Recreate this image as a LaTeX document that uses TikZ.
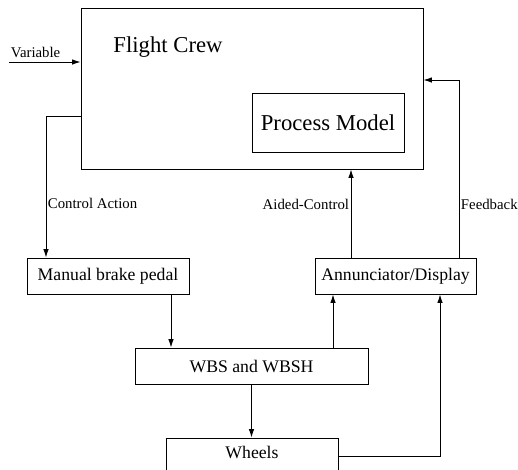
\documentclass[tikz,border=0pt]{standalone}
\usepackage{fontspec}
\setmainfont{Liberation Serif}
\usetikzlibrary{arrows.meta}

\tikzset{
  block/.style={draw, line width=0.9pt, rectangle, inner sep=0pt, minimum height=36pt, font=\fontsize{17.7}{20}\selectfont},
  flow/.style={line width=0.9pt, -{Latex[length=8.5pt,width=5.5pt]}},
  lbl/.style={font=\fontsize{14.8}{17}\selectfont, inner sep=1.5pt}
}

\begin{document}
\begin{tikzpicture}[x=1pt, y=-1pt]
\clip (0,0) rectangle (518,469);
% Crew box with its process model
\node[draw, line width=0.9pt, minimum width=342pt, minimum height=161pt] (crew) at (252,88.5) {};
\node[font=\fontsize{22.7}{26}\selectfont] (crewtxt) at (168,47) {Flight Crew};
\node[draw, line width=0.9pt, minimum width=152pt, minimum height=59pt, font=\fontsize{22.7}{26}\selectfont] (model) at (328,122.5) {Process Model};

% Lower blocks
\node[block, minimum width=162pt] (pedal) at (108,276) {Manual brake pedal};
\node[block, minimum width=161pt] (annun) at (395.5,276) {Annunciator/Display};
\node[block, minimum width=233pt] (wbs) at (251.5,366) {WBS and WBSH};
\node[block, minimum width=172pt, minimum height=40pt, text depth=12pt] (wheels) at (252,458) {Wheels};

% Connectors
\coordinate (varin) at (9,62);
\draw[flow] (varin) -- (varin -| crew.west) node[lbl, pos=0, anchor=south west, yshift=2pt] {Variable};
\draw[flow] (crew.west |- 0,116) -| (pedal.north -| 46,0) node[lbl, pos=0.81, right] {Control Action};
\draw[flow] (pedal.south -| 171,0) -- (wbs.north -| 171,0);
\draw[flow] (wbs.south) -- (wbs.south |- wheels.north);
\draw[flow] (wbs.north -| 333,0) -- (annun.south -| 333,0);
\draw[flow] (wheels.east |- 0,456) -| (annun.south -| 440,0);
\draw[flow] (annun.north -| 351,0) -- (crew.south -| 351,0) node[lbl, pos=0.6, left] {Aided-Control};
\draw[flow] (annun.north -| 459,0) |- (crew.east |- 0,80) node[lbl, pos=0.15, right] {Feedback};
\end{tikzpicture}
\end{document}
